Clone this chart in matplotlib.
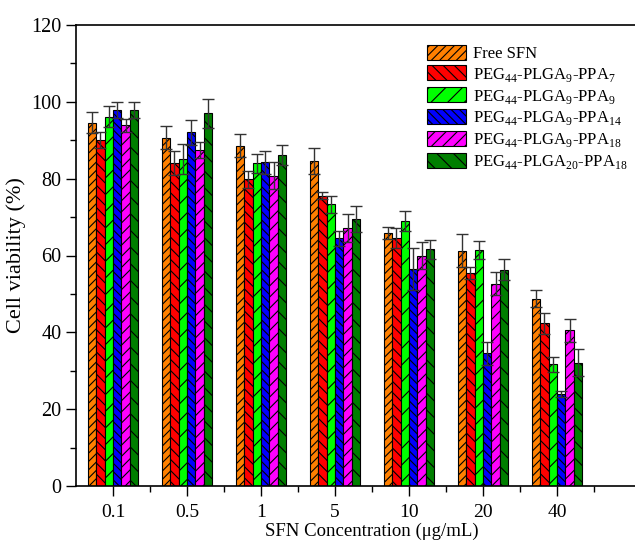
import numpy as np
import matplotlib
matplotlib.use('Agg')
import matplotlib.pyplot as plt
from matplotlib.ticker import MultipleLocator

plt.rcParams['font.family'] = 'Liberation Serif'
plt.rcParams['mathtext.fontset'] = 'custom'
plt.rcParams['mathtext.rm'] = 'Liberation Serif'
plt.rcParams['hatch.linewidth'] = 0.8

# data
concentrations = ['0.1', '0.5', '1', '5', '10', '20', '40']
series_names = ['Free SFN',
                'PEG$_{44}$-PLGA$_{9}$-PPA$_{7}$',
                'PEG$_{44}$-PLGA$_{9}$-PPA$_{9}$',
                'PEG$_{44}$-PLGA$_{9}$-PPA$_{14}$',
                'PEG$_{44}$-PLGA$_{9}$-PPA$_{18}$',
                'PEG$_{44}$-PLGA$_{20}$-PPA$_{18}$']
free_sfn = [94.6, 90.6, 88.6, 84.5, 65.8, 61.2, 48.7]
ppa7 = [90.1, 84.1, 79.8, 75.6, 64.5, 55.4, 42.3]
ppa9 = [96.1, 85.2, 84.0, 73.3, 69.0, 61.5, 31.7]
ppa14 = [97.8, 92.1, 84.3, 64.5, 56.5, 34.5, 23.9]
ppa18 = [93.9, 87.5, 80.8, 67.1, 60.0, 52.7, 40.5]
plga20 = [97.9, 97.0, 86.1, 69.5, 61.6, 56.3, 32.1]
free_sfn_err = [2.8, 3.0, 3.0, 3.4, 1.5, 4.3, 2.2]
ppa7_err = [2.0, 3.2, 2.1, 1.0, 2.6, 1.5, 2.7]
ppa9_err = [2.7, 3.9, 2.5, 2.2, 2.6, 2.3, 2.0]
ppa14_err = [2.1, 3.3, 3.0, 2.0, 5.4, 3.0, 0.8]
ppa18_err = [1.7, 2.1, 3.6, 3.7, 3.4, 3.0, 3.0]
plga20_err = [2.0, 3.8, 2.6, 3.5, 2.4, 2.7, 3.5]

values = [free_sfn, ppa7, ppa9, ppa14, ppa18, plga20]
errors = [free_sfn_err, ppa7_err, ppa9_err, ppa14_err, ppa18_err, plga20_err]
colors = ['#FF8000', '#FF0000', '#00FF00', '#0000FF', '#FF00FF', '#007F00']
hatches = ['////', '\\\\\\', '//', '\\\\\\\\', '///', '\\\\']

fig = plt.figure(figsize=(6.35, 5.43), dpi=100)
ax = fig.add_axes([76 / 635, 1 - 486 / 543, 592 / 635, 461 / 543])

x = np.arange(len(concentrations))
w = 0.113
for i in range(6):
    ax.bar(x + (i - 2.5) * w, values[i], w, color=colors[i], edgecolor='black',
           linewidth=0.8, hatch=hatches[i], label=series_names[i],
           yerr=errors[i], capsize=4,
           error_kw=dict(ecolor='#333333', elinewidth=1, capthick=1))

ax.set_xlim(-0.5, 7.5)
ax.set_ylim(0, 120)
ax.set_xticks(x)
ax.set_xticklabels(concentrations)
ax.set_xticks(x + 0.5, minor=True)
ax.yaxis.set_major_locator(MultipleLocator(20))
ax.yaxis.set_minor_locator(MultipleLocator(10))
ax.tick_params(axis='both', which='major', direction='out', length=7, width=1, labelsize=14.5)
ax.tick_params(axis='both', which='minor', direction='out', length=4, width=1)
ax.tick_params(axis='x', which='major', pad=6, labelsize=14)
ax.spines['right'].set_visible(False)
for s in ['left', 'bottom', 'top']:
    ax.spines[s].set_linewidth(1.2)

ax.set_ylabel('Cell viability (%)', fontsize=16)
ax.set_xlabel('SFN Concentration (\u03bcg/mL)', fontsize=13.5, labelpad=1)

ax.legend(loc='upper left', bbox_to_anchor=(420 / 635, 1 - 38 / 543),
          bbox_transform=fig.transFigure, frameon=False, fontsize=12,
          handlelength=2.35, handleheight=1.0, labelspacing=0.22, handletextpad=0.45,
          borderaxespad=0)

fig.savefig('out.png', dpi=100)
